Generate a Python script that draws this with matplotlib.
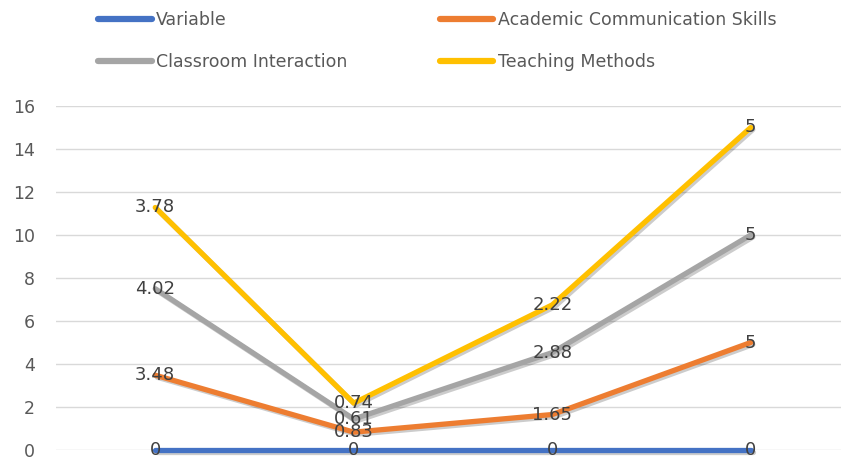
import numpy as np
import matplotlib.pyplot as plt
import matplotlib.patheffects as pe
from matplotlib.lines import Line2D

# data (stacked line chart, labels show each series' own value)
categories = [0, 0, 0, 0]
variable = [0, 0, 0, 0]
academic = [3.48, 0.83, 1.65, 5]
classroom = [4.02, 0.61, 2.88, 5]
teaching = [3.78, 0.74, 2.22, 5]

names = ["Variable", "Academic Communication Skills",
         "Classroom Interaction", "Teaching Methods"]
series = [variable, academic, classroom, teaching]
colors = ["#4472C4", "#ED7D31", "#A5A5A5", "#FFC000"]

W, H = 841, 462
fig = plt.figure(figsize=(W / 100, H / 100), dpi=100)
# axes box in pixels: left 56, one category slot = 198.5 px, y 0 at 450, 16 at 106
ax = fig.add_axes([56 / W, (H - 450) / H, 4 * 198.5 / W, (450 - 106) / H])

x = np.arange(len(categories))
cum = np.zeros(len(categories))
shadow = [pe.SimpleLineShadow(offset=(1.5, -1.5), shadow_color="k", alpha=0.2),
          pe.Normal()]
for name, vals, c in zip(names, series, colors):
    cum = cum + np.array(vals)
    ax.plot(x, cum, color=c, lw=3.8, solid_capstyle="round",
            path_effects=shadow, zorder=3, clip_on=False)
    for xi, yi, v in zip(x, cum, vals):
        ax.text(xi, yi, f"{v:g}", ha="center", va="center", fontsize=13,
                color="#404040", zorder=5)

ax.set_xlim(-0.5, 3.5)
ax.set_ylim(0, 16)
ax.set_yticks(range(0, 17, 2))
ax.set_xticks([])
ax.grid(axis="y", color="#D9D9D9", lw=1)
ax.set_axisbelow(True)
for s in ax.spines.values():
    s.set_visible(False)
ax.tick_params(axis="y", length=0, pad=15, labelsize=12.5, labelcolor="#595959")

# legend: two rows, two columns
handles = [Line2D([], [], color=c, lw=4.5, solid_capstyle="round") for c in colors]
order = [0, 2, 1, 3]
fig.legend([handles[i] for i in order], [names[i] for i in order],
           ncol=2, loc="upper left", bbox_to_anchor=(98 / W, 1 - 11 / H),
           frameon=False, borderpad=0, borderaxespad=0, handlelength=3.1,
           handletextpad=0.25, columnspacing=5.3, labelspacing=1.4,
           prop={"size": 12.5}, labelcolor="#595959")

fig.savefig("out.png", dpi=100)
